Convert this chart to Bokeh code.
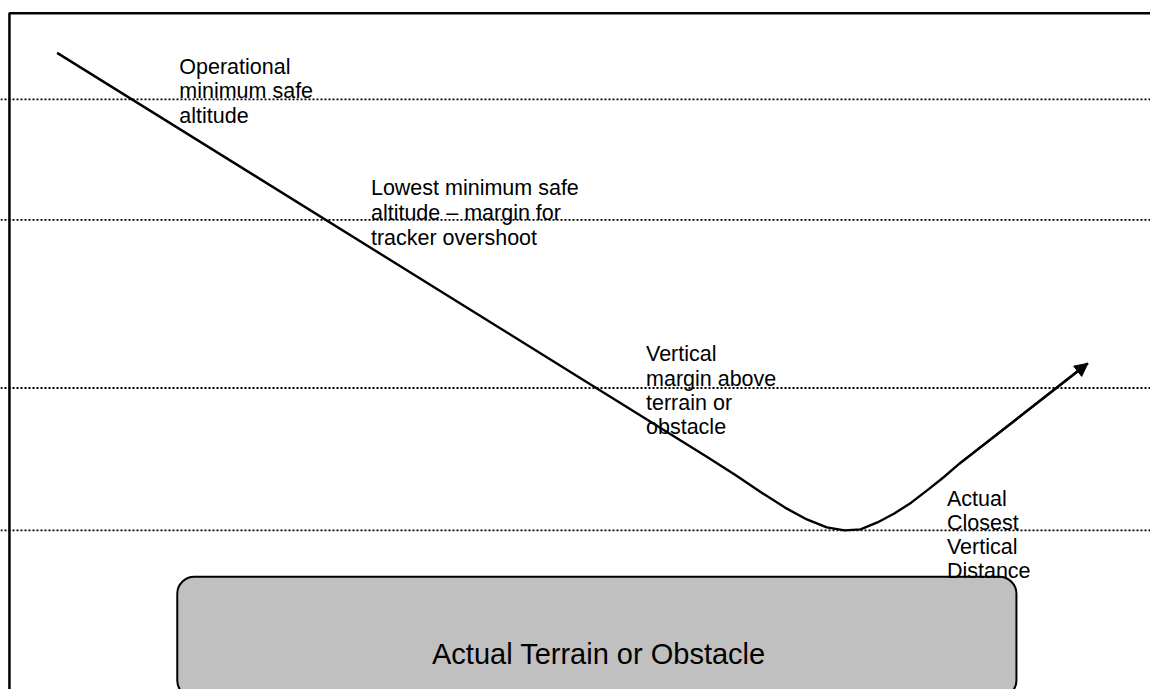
from bokeh.plotting import figure
from bokeh.models import Range1d, Span, BoxAnnotation, Arrow, NormalHead
from bokeh.core.properties import value
from bokeh.embed import file_html
from bokeh.resources import INLINE

# --- diagram data (image-pixel coordinate system, y downward) ---
level_names = ["Operational MSA", "Lowest MSA", "Vertical margin", "Closest distance"]
level_y = [100, 222, 392, 536]

path_x = [57, 712, 740, 765, 790, 812, 832, 850, 866, 883, 900, 917, 935, 950, 965, 1095]
path_y = [53, 462, 480, 497, 513, 525, 533, 536, 535, 528, 519, 508, 494, 482, 469, 367]

label_blocks = [
    ["Operational", "minimum safe", "altitude"],
    ["Lowest minimum safe", "altitude \u2013 margin for", "tracker overshoot"],
    ["Vertical", "margin above", "terrain or", "obstacle"],
    ["Actual", "Closest", "Vertical", "Distance"],
]
label_x = [180, 373, 650, 953]
label_y0 = [67, 190, 358, 504]
label_step = [25, 25, 24.5, 24.5]

terrain_label = "Actual Terrain or Obstacle"
terrain_box = dict(left=178, right=1023, top=583, bottom=705)

FONT = "Liberation Sans"

p = figure(width=1150, height=689, output_backend="svg", toolbar_location=None,
           x_range=Range1d(0, 1158), y_range=Range1d(697, 0),
           x_axis_location=None, y_axis_location=None, min_border=0)
p.grid.visible = False
p.outline_line_color = None
p.background_fill_color = "white"
p.border_fill_color = "white"

# frame (top & left border)
p.line([9, 9, 1158], [697, 13, 13], line_color="black", line_width=2.5)

# dotted levels
for yy in level_y:
    p.add_layout(Span(location=yy, dimension="width", line_color="black",
                      line_width=1.8, line_dash="2 2"))

# terrain box
p.add_layout(BoxAnnotation(fill_color="#c0c0c0", fill_alpha=1.0, line_color="black",
                           line_width=2, line_alpha=1.0, border_radius=17,
                           level="underlay", **terrain_box))
p.text(x=[(terrain_box["left"] + terrain_box["right"]) / 2 + 2], y=[661], text=[terrain_label],
       text_font=value(FONT), text_font_size="29px", text_align="center",
       text_baseline="middle", text_color="black")

# flight path
p.line(path_x, path_y, line_color="black", line_width=2.4)
p.add_layout(Arrow(end=NormalHead(size=13, fill_color="black", line_color="black", line_width=1),
                   x_start=path_x[-2], y_start=path_y[-2], x_end=path_x[-1], y_end=path_y[-1],
                   line_color="black", line_width=2.4))

# labels
for lines, lx, ly, st in zip(label_blocks, label_x, label_y0, label_step):
    ys = [ly + i * st for i in range(len(lines))]
    p.text(x=[lx] * len(lines), y=ys, text=lines, text_font=value(FONT),
           text_font_size="21.5px", text_align="left", text_baseline="middle",
           text_color="black")

open("out.html", "w").write(file_html(p, INLINE))
